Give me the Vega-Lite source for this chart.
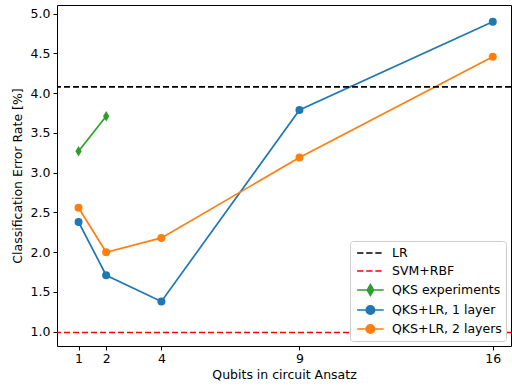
{
  "$schema": "https://vega.github.io/schema/vega-lite/v6.json",
  "autosize": "none",
  "width": 454,
  "height": 341,
  "padding": {"left": 57, "top": 5, "right": 1, "bottom": 42},
  "background": "white",
  "config": {
    "font": "DejaVu Sans",
    "view": {"stroke": "black", "strokeWidth": 1},
    "axis": {
      "grid": false,
      "domain": false,
      "tickColor": "black",
      "tickSize": 4,
      "labelFont": "DejaVu Sans",
      "labelFontSize": 12.5,
      "labelColor": "black",
      "titleFont": "DejaVu Sans",
      "titleFontSize": 12.5,
      "titleFontWeight": "normal",
      "titleColor": "black"
    }
  },
  "datasets": {
    "hlines": [
      {"series": "LR", "value": 4.08},
      {"series": "SVM+RBF", "value": 0.99}
    ],
    "points": [
      {"series": "QKS experiments", "qubits": 1, "error": 3.27},
      {"series": "QKS experiments", "qubits": 2, "error": 3.71},
      {"series": "QKS+LR, 1 layer", "qubits": 1, "error": 2.38},
      {"series": "QKS+LR, 1 layer", "qubits": 2, "error": 1.71},
      {"series": "QKS+LR, 1 layer", "qubits": 4, "error": 1.38},
      {"series": "QKS+LR, 1 layer", "qubits": 9, "error": 3.79},
      {"series": "QKS+LR, 1 layer", "qubits": 16, "error": 4.9},
      {"series": "QKS+LR, 2 layers", "qubits": 1, "error": 2.56},
      {"series": "QKS+LR, 2 layers", "qubits": 2, "error": 2.0},
      {"series": "QKS+LR, 2 layers", "qubits": 4, "error": 2.18},
      {"series": "QKS+LR, 2 layers", "qubits": 9, "error": 3.19},
      {"series": "QKS+LR, 2 layers", "qubits": 16, "error": 4.46}
    ]
  },
  "layer": [
    {
      "data": {"name": "points"},
      "mark": {"type": "line", "strokeWidth": 1.7},
      "encoding": {
        "x": {
          "field": "qubits",
          "type": "quantitative",
          "title": "Qubits in circuit Ansatz",
          "scale": {"domain": [0.22, 16.66], "nice": false, "zero": false},
          "axis": {"values": [1, 2, 4, 9, 16], "format": "d", "titlePadding": 4, "labelPadding": 2}
        },
        "y": {
          "field": "error",
          "type": "quantitative",
          "title": "Classification Error Rate [%]",
          "scale": {"domain": [0.82, 5.11], "nice": false, "zero": false},
          "axis": {"values": [1.0, 1.5, 2.0, 2.5, 3.0, 3.5, 4.0, 4.5, 5.0], "format": ".1f", "titlePadding": 6, "labelPadding": 3}
        },
        "color": {
          "field": "series",
          "type": "nominal",
          "scale": {
            "domain": ["LR", "SVM+RBF", "QKS experiments", "QKS+LR, 1 layer", "QKS+LR, 2 layers"],
            "range": ["black", "red", "#2ca02c", "#1f77b4", "#ff7f0e"]
          },
          "legend": {
            "title": null,
            "orient": "bottom-right",
            "offset": 5,
            "fillColor": "white",
            "strokeColor": "#cccccc",
            "cornerRadius": 3,
            "padding": 4,
            "labelFontSize": 12.5,
            "labelFont": "DejaVu Sans",
            "labelColor": "black",
            "symbolSize": 196,
            "symbolStrokeWidth": 1.7,
            "rowPadding": 3,
            "labelOffset": 22,
            "encode": {
              "symbols": {
                "update": {
                  "shape": {"signal": "(datum.value === 'LR' || datum.value === 'SVM+RBF') ? 'M-0.7,0H0.2M0.6,0H1.5M1.9,0H2.8' : (datum.value === 'QKS experiments' ? 'M-0.7,0H3.1M1.2,-0.75L1.65,0L1.2,0.75L0.75,0Z' : 'M-0.7,0H3.1M1.8,0A0.6,0.6 0 1,1 0.6,0A0.6,0.6 0 1,1 1.8,0Z')"},
                  "fill": {"signal": "(datum.value === 'LR' || datum.value === 'SVM+RBF') ? 'transparent' : scale('color', datum.value)"},
                  "stroke": {"signal": "scale('color', datum.value)"},
                  "strokeDash": {"value": []},
                  "opacity": {"value": 1}
                }
              }
            }
          }
        },
        "detail": {"field": "series"}
      }
    },
    {
      "data": {"name": "hlines"},
      "mark": {"type": "rule", "strokeWidth": 1.7, "strokeDash": [6, 3]},
      "encoding": {
        "y": {"field": "value", "type": "quantitative"},
        "color": {"field": "series", "type": "nominal"}
      }
    },
    {
      "data": {"name": "points"},
      "transform": [{"filter": "datum.series !== 'QKS experiments'"}],
      "mark": {"type": "point", "shape": "circle", "filled": true, "size": 64, "opacity": 1},
      "encoding": {
        "x": {"field": "qubits", "type": "quantitative"},
        "y": {"field": "error", "type": "quantitative"},
        "color": {"field": "series", "type": "nominal"}
      }
    },
    {
      "data": {"name": "points"},
      "transform": [{"filter": "datum.series === 'QKS experiments'"}],
      "mark": {"type": "point", "shape": "M0,-1L0.6,0L0,1L-0.6,0Z", "filled": true, "size": 110, "opacity": 1},
      "encoding": {
        "x": {"field": "qubits", "type": "quantitative"},
        "y": {"field": "error", "type": "quantitative"},
        "color": {"field": "series", "type": "nominal"}
      }
    }
  ]
}
